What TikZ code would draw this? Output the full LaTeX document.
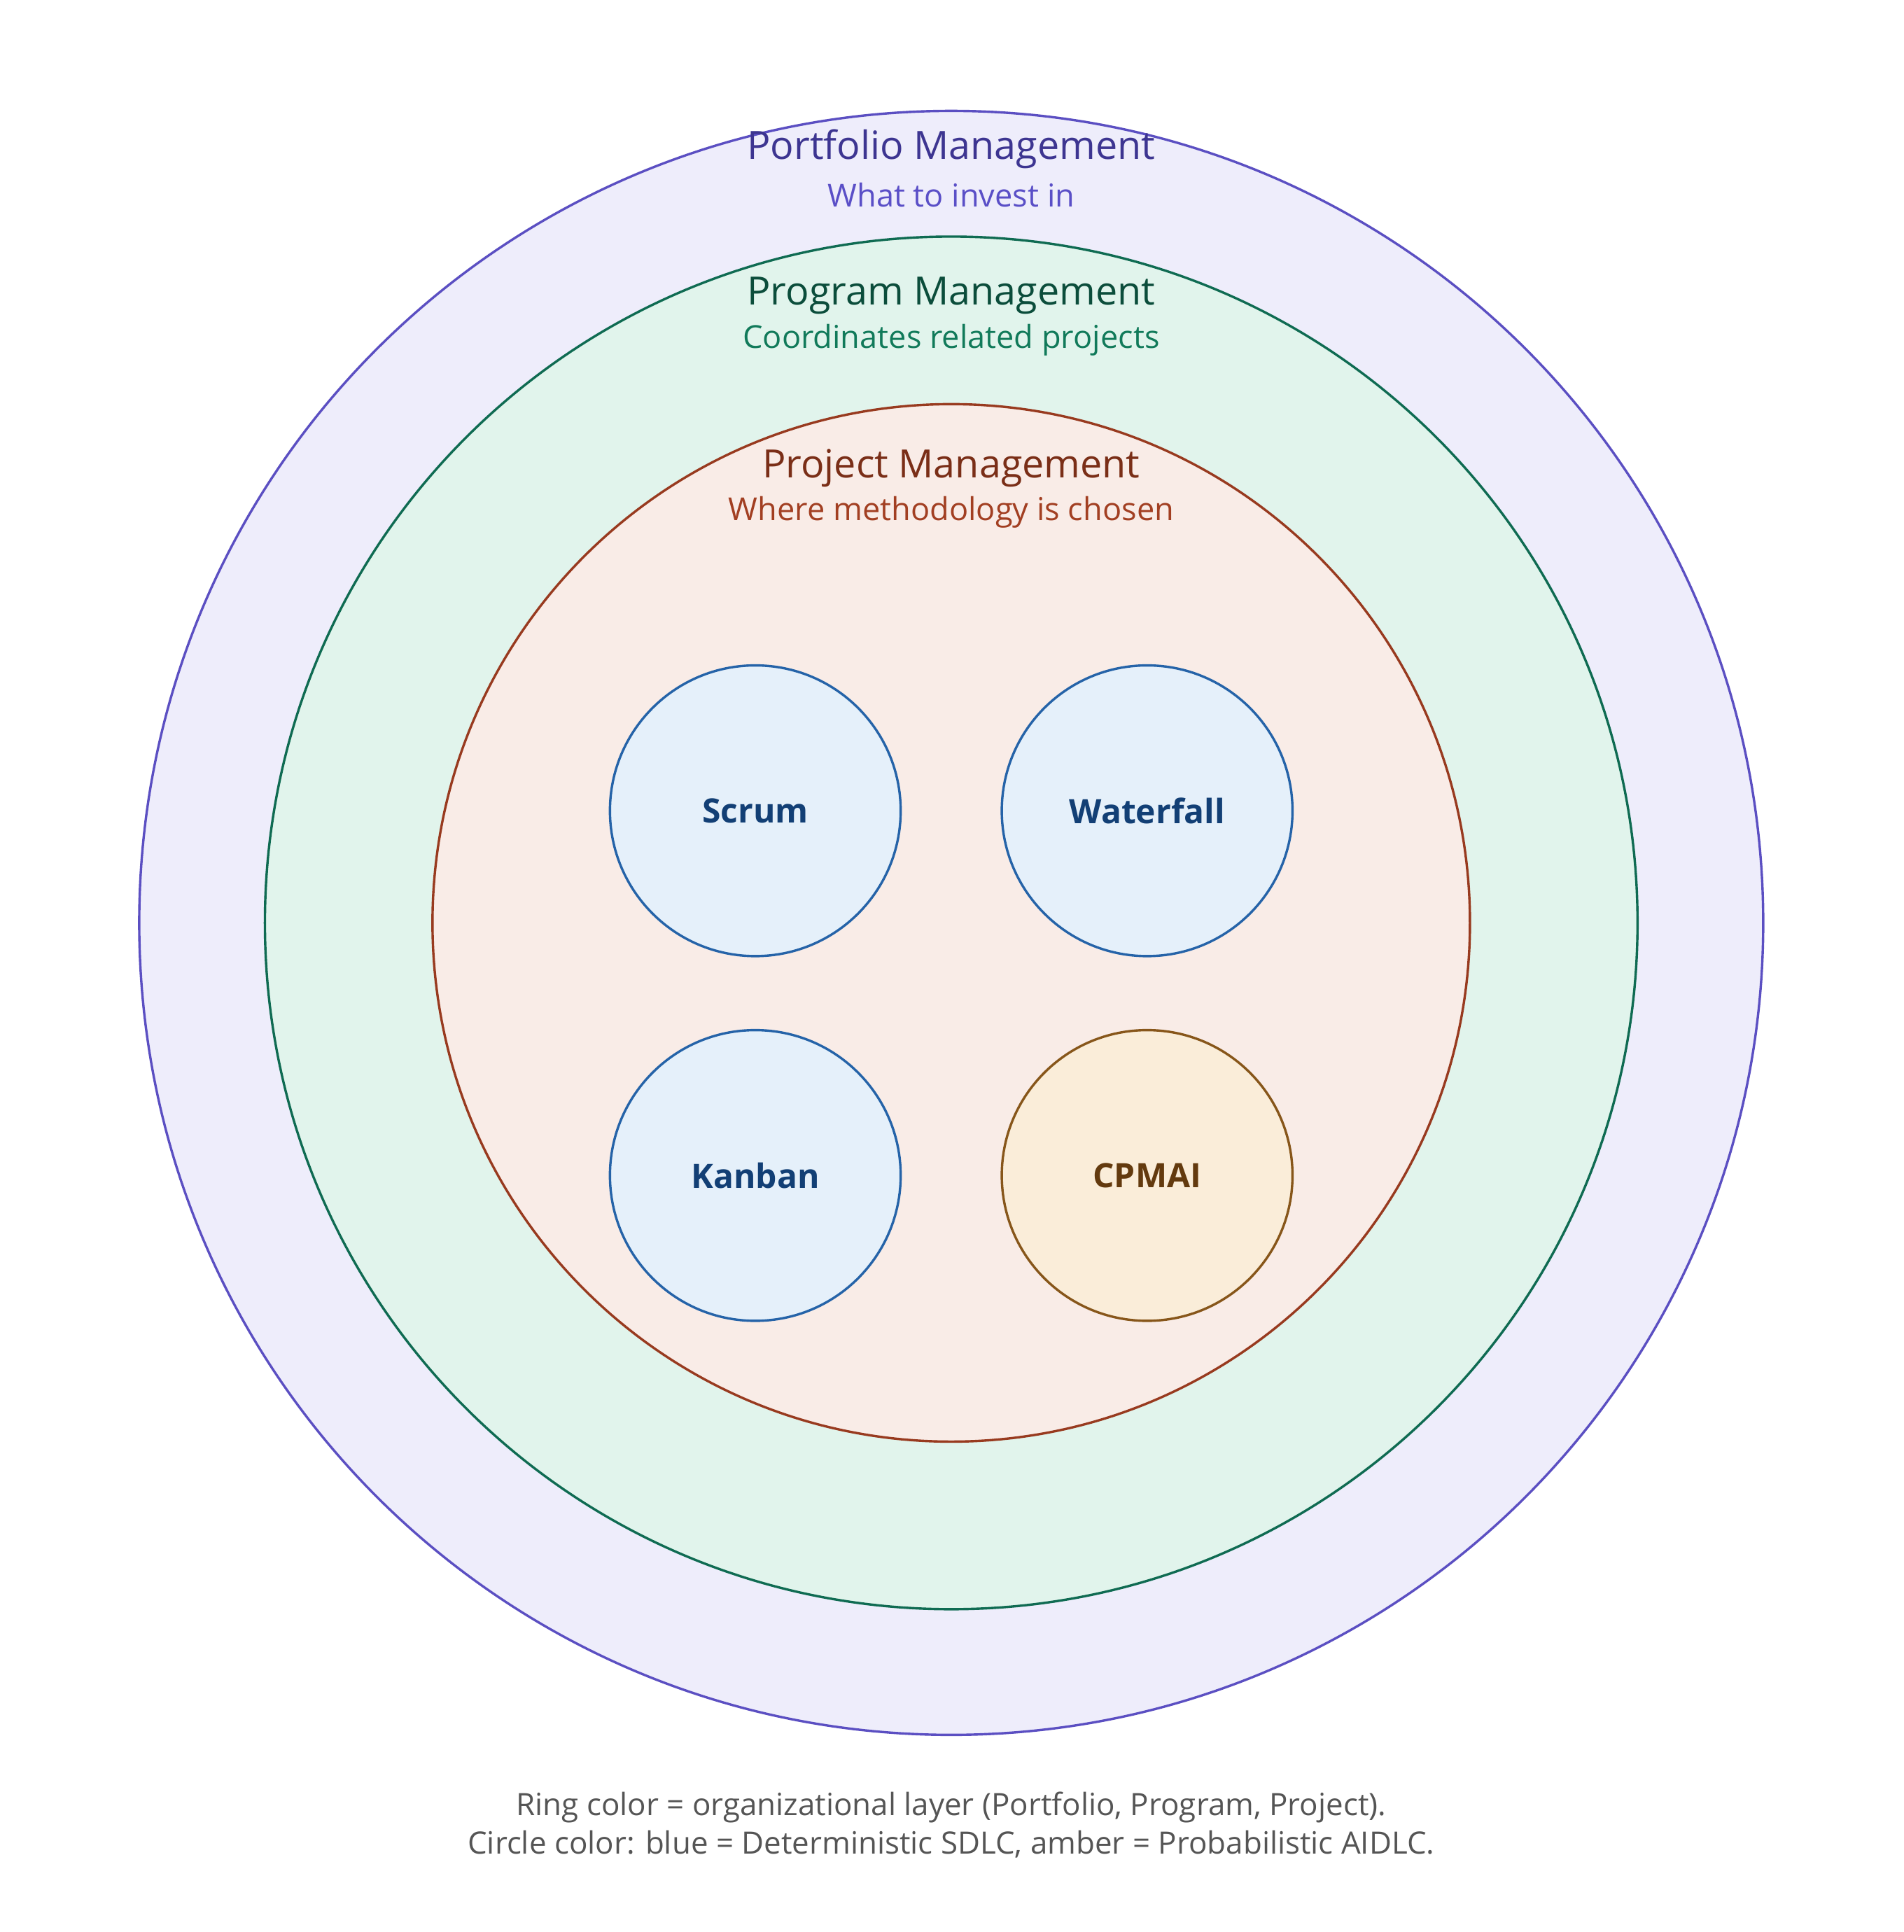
\documentclass[tikz,border=0pt]{standalone}
\usepackage{fontspec}
\setmainfont{Open Sans}
\definecolor{pfFill}{HTML}{EEEDFB}\definecolor{pfLine}{HTML}{5B4FC2}
\definecolor{pfHead}{HTML}{3D3591}\definecolor{pfSub}{HTML}{5A4FC7}
\definecolor{pgFill}{HTML}{E1F4EC}\definecolor{pgLine}{HTML}{0F6B52}
\definecolor{pgHead}{HTML}{0B4D3B}\definecolor{pgSub}{HTML}{117A5A}
\definecolor{prFill}{HTML}{F9ECE7}\definecolor{prLine}{HTML}{983A1F}
\definecolor{prHead}{HTML}{7A2E17}\definecolor{prSub}{HTML}{A23F22}
\definecolor{sdFill}{HTML}{E5F0FA}\definecolor{sdLine}{HTML}{2563A8}
\definecolor{sdText}{HTML}{123F75}
\definecolor{aiFill}{HTML}{FAEDD9}\definecolor{aiLine}{HTML}{87561A}
\definecolor{aiText}{HTML}{633A0E}
\definecolor{capText}{HTML}{555555}
\tikzset{
  ring/.style={draw=#1Line,fill=#1Fill,line width=1.1pt},
  head/.style={text=#1Head,font=\fontsize{18}{21}\selectfont},
  sub/.style={text=#1Sub,font=\fontsize{14.6}{17}\selectfont},
  method/.style={draw=#1Line,fill=#1Fill,line width=1.1pt,circle,minimum size=4.72cm,inner sep=0pt,text=#1Text,font=\fontsize{15.5}{19}\selectfont\bfseries}
}
\begin{document}
\begin{tikzpicture}[x=0.02cm,y=-0.02cm]
\useasboundingbox (0,0) rectangle (1545,1568);
% rings
\draw[ring=pf] (772,749) circle (659);
\draw[ring=pg] (772,749) circle (557);
\draw[ring=pr] (772,749) circle (421);
% ring labels
\node[head=pf] (pfTitle) at (772,121) {Portfolio Management};
\node[sub=pf] (pfNote) at (772,158) {What to invest in};
\node[head=pg] (pgTitle) at (772,240) {Program Management};
\node[sub=pg] (pgNote) at (772,276) {Coordinates related projects};
\node[head=pr] (prTitle) at (772,380) {Project Management};
\node[sub=pr] (prNote) at (772,416) {Where methodology is chosen};
% methodologies
\node[method=sd] (scrum) at (613,658) {Scrum};
\node[method=sd] (waterfall) at (931,658) {Waterfall};
\node[method=sd] (kanban) at (613,954) {Kanban};
\node[method=ai] (cpmai) at (931,954) {CPMAI};
% caption
\node[text=capText,font=\fontsize{14.2}{17}\selectfont] (cap1) at (772,1467) {Ring color = organizational layer (Portfolio, Program, Project).};
\node[text=capText,font=\fontsize{14.2}{17}\selectfont] (cap2) at (772,1497) {Circle color: blue = Deterministic SDLC, amber = Probabilistic AIDLC.};
\end{tikzpicture}
\end{document}
